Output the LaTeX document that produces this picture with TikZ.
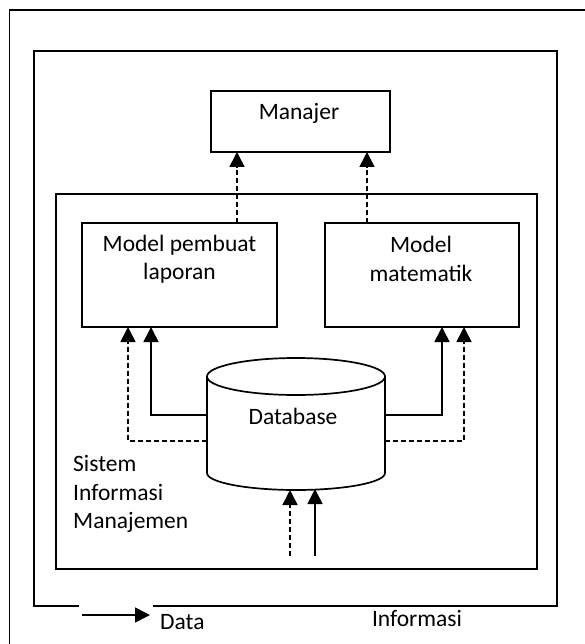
\documentclass[tikz,border=0pt]{standalone}
\usepackage{fontspec}
\setmainfont{Carlito}
\usetikzlibrary{arrows.meta}
\begin{document}
\begin{tikzpicture}[x=1pt,y=-1pt,
  frame/.style={line width=1.7pt, line cap=rect},
  boxnode/.style={draw, line width=1.7pt, rectangle, inner sep=0pt},
  txt/.style={font=\fontsize{23.5}{28.5}\selectfont, inner sep=0pt, align=center},
  flow/.style={line width=1.6pt, -{Triangle[length=15pt,width=15pt]}},
  dflow/.style={flow, dash pattern=on 5pt off 3pt},
]
\useasboundingbox (0,0) rectangle (585,644);
\fill[white] (0,0) rectangle (585,644);

% outer frame (cropped)
\draw[frame] (9.5,644) -- (9.5,10) -- (585,10);
% second frame with gap at bottom
\draw[frame] (78,606) -- (34,606) -- (34,51) -- (557,51) -- (557,606) -- (154,606);
% inner frame
\draw[frame] (56,194) rectangle (537,569);

% boxes
\node[boxnode, minimum width=179pt, minimum height=61pt] (man) at (300.5,121.5) {};
\node[txt] (mant) at (299,113) {Manajer};
\node[boxnode, minimum width=195pt, minimum height=104pt] (mp) at (179.5,275) {};
\node[txt] (mpt) at (179.5,259) {Model pembuat\\laporan};
\node[boxnode, minimum width=194pt, minimum height=104pt] (mm) at (422,275) {};
\node[txt] (mmt) at (421,259) {Model\\matematik};

% database cylinder
\draw[line width=1.7pt] (207,376.5) -- (207,473) arc[start angle=180, end angle=360, x radius=89, y radius=-17] -- (385,376.5);
\draw[line width=1.7pt] (296,376.5) ellipse[x radius=89, y radius=18.5];
\node[txt] (db) at (293,416) {Database};

% anchor coordinates
\coordinate (dbL1) at (207,415);
\coordinate (dbL2) at (207,441);
\coordinate (dbR1) at (385,415);
\coordinate (dbR2) at (385,441);
\coordinate (mpIn1) at (151,327);
\coordinate (mpIn2) at (128,327);
\coordinate (mmIn1) at (442,327);
\coordinate (mmIn2) at (464,327);
\coordinate (mpOut) at (237,223);
\coordinate (mmOut) at (367,223);
\coordinate (manIn1) at (237,152);
\coordinate (manIn2) at (367,152);
\coordinate (src1) at (290,556);
\coordinate (src2) at (315,556);
\coordinate (dbB1) at (290,490);
\coordinate (dbB2) at (315,489);

% connectors
\draw[dflow] (mpOut) -- (manIn1);
\draw[dflow] (mmOut) -- (manIn2);
\draw[flow] (dbL1) -| (mpIn1);
\draw[dflow] (dbL2) -| (mpIn2);
\draw[flow] (dbR1) -| (mmIn1);
\draw[dflow] (dbR2) -| (mmIn2);
\draw[dflow] (src1) -- (dbB1);
\draw[flow] (src2) -- (dbB2);

% side label
\node[txt, align=left, anchor=west] (sim) at (73,494) {Sistem\\Informasi\\Manajemen};

% legend
\coordinate (legA) at (82,615);
\coordinate (legB) at (150,615);
\draw[flow] (legA) -- (legB);
\node[txt, anchor=west] (data) at (160,622) {Data};
\node[txt] (info) at (417,618) {Informasi};
\end{tikzpicture}
\end{document}
